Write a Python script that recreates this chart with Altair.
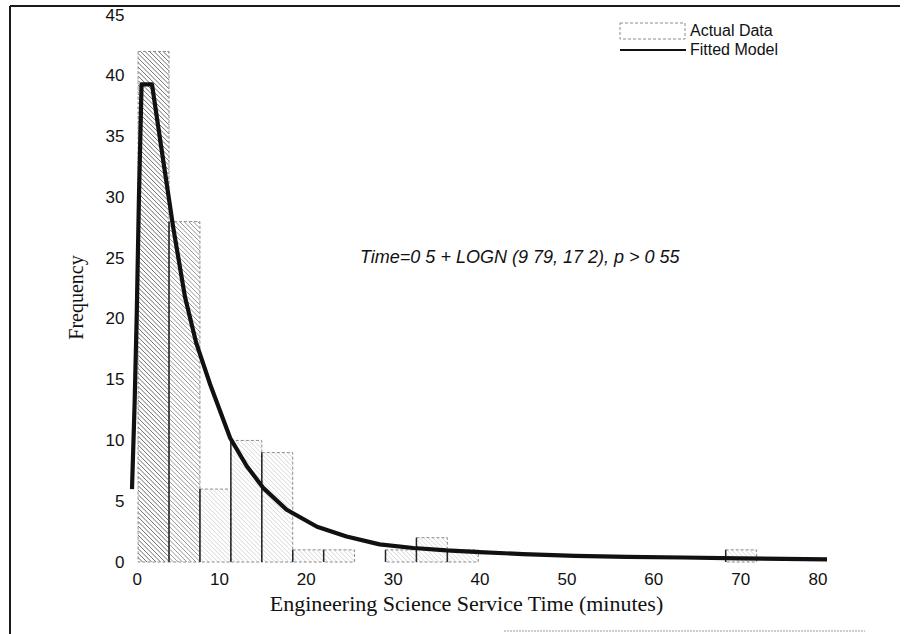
import altair as alt
import pandas as pd

# Histogram of observed service times (bin edges in minutes, counts per bin)
bin_edges = [0.70, 4.26, 7.82, 11.38, 14.94, 18.50, 22.06, 25.62, 29.18, 32.74, 36.30,
             39.86, 43.42, 46.98, 50.54, 54.10, 57.66, 61.22, 64.78, 68.34, 71.90,
             75.46, 79.02]
bin_counts = [42, 28, 6, 10, 9, 1, 1, 0, 1, 2, 1, 0, 0, 0, 0, 0, 0, 0, 0, 1, 0, 0]

# Fitted lognormal model, scaled to frequency
curve_x = [0.0, 0.3, 0.55, 0.8, 1.1, 2.3, 3.6, 4.75, 6.1, 7.4, 9.0, 11.3, 13.2, 15.1,
           17.8, 21.3, 24.7, 28.5, 32.4, 36.2, 40.0, 45.0, 51.0, 57.0, 63.4, 70.0,
           75.0, 80.0]
curve_y = [6.0, 13.0, 20.5, 30.0, 39.3, 39.3, 33.0, 27.5, 21.8, 18.0, 14.6, 10.2, 7.9,
           6.1, 4.3, 2.9, 2.1, 1.45, 1.15, 0.95, 0.82, 0.65, 0.5, 0.42, 0.37, 0.3,
           0.25, 0.22]

x_ticks = [0, 10, 20, 30, 40, 50, 60, 70, 80]
y_ticks = [0, 5, 10, 15, 20, 25, 30, 35, 40, 45]
legend_labels = ["Actual Data", "Fitted Model"]
annotation = "Time=0 5 + LOGN (9 79, 17 2), p > 0 55"
x_title = "Engineering Science Service Time (minutes)"
y_title = "Frequency"

W, H = 695, 547
X_MAX, Y_MAX = 80, 45

bars = pd.DataFrame({
    "lo": bin_edges[:-1],
    "hi": bin_edges[1:],
    "count": bin_counts,
    "bin": list(range(len(bin_counts))),
})
bars["base"] = 0
bars = bars[bars["count"] > 0].reset_index(drop=True)

# Diagonal hatching inside each bar, spaced in screen pixels
sx, sy = W / X_MAX, H / Y_MAX
step = 4.5
rows = []
for r in bars.itertuples():
    w_px = (r.hi - r.lo) * sx
    h_px = r.count * sy
    tone = "dark" if r.bin == 0 else ("mid" if r.bin == 1 else "light")
    c = step
    while c < w_px + h_px:
        u0 = max(0.0, c - h_px)
        u1 = min(w_px, c)
        rows.append({"x": r.lo + u0 / sx, "y": (c - u0) / sy,
                     "x2": r.lo + u1 / sx, "y2": (c - u1) / sy, "tone": tone})
        c += step
hatch = pd.DataFrame(rows)

curve = pd.DataFrame({"x": curve_x, "y": curve_y})
one = pd.DataFrame({"k": [0]})

x_scale = alt.Scale(domain=[0, X_MAX], nice=False, zero=False)
y_scale = alt.Scale(domain=[0, Y_MAX], nice=False, zero=False)
x_axis = alt.Axis(values=x_ticks, title=x_title, domain=False, ticks=False, grid=False,
                  labelFont="Liberation Sans", labelFontSize=17, labelColor="#111",
                  labelPadding=9, titleFont="Liberation Serif", titleFontSize=22,
                  titleFontWeight="normal", titleColor="#111", titleX=334, titleY=41,
                  titleBaseline="middle", titleAlign="center")
y_axis = alt.Axis(values=y_ticks, title=y_title, domain=False, ticks=False, grid=False,
                  labelFont="Liberation Sans", labelFontSize=17, labelColor="#111",
                  labelPadding=8, titleFont="Liberation Serif", titleFontSize=20,
                  titleFontWeight="normal", titleColor="#111", titleX=-56, titleY=282,
                  titleBaseline="middle", titleAlign="center", titleAngle=-90)

hatch_layer = alt.Chart(hatch).mark_rule(strokeWidth=0.9).encode(
    x=alt.X("x:Q", scale=x_scale, axis=x_axis),
    x2="x2:Q",
    y=alt.Y("y:Q", scale=y_scale, axis=y_axis),
    y2="y2:Q",
    color=alt.Color("tone:N", legend=None,
                    scale=alt.Scale(domain=["dark", "mid", "light"],
                                    range=["#5e5e5e", "#8c8c8c", "#d4d4d4"])),
)

bar_outline = alt.Chart(bars).mark_rect(
    fill="white", fillOpacity=0, stroke="#8c8c8c", strokeWidth=1, strokeDash=[3, 2]
).encode(
    x=alt.X("lo:Q", scale=x_scale, axis=x_axis),
    x2="hi:Q",
    y=alt.Y("count:Q", scale=y_scale, axis=y_axis),
    y2="base:Q",
)

bar_edges = alt.Chart(bars).transform_filter("datum.bin > 0").mark_rule(
    color="#262626", strokeWidth=1.5
).encode(
    x=alt.X("lo:Q", scale=x_scale, axis=x_axis),
    y=alt.Y("count:Q", scale=y_scale, axis=y_axis),
    y2="base:Q",
)

curve_layer = alt.Chart(curve).mark_line(
    color="#111", strokeWidth=4.2, strokeJoin="round"
).encode(
    x=alt.X("x:Q", scale=x_scale, axis=x_axis),
    y=alt.Y("y:Q", scale=y_scale, axis=y_axis),
)

note = alt.Chart(one).mark_text(
    text=annotation, font="Liberation Sans", fontSize=18, fontStyle="italic",
    align="left", baseline="middle", color="#111"
).encode(x=alt.value(228), y=alt.value(243))

legend_box = alt.Chart(one).mark_rect(
    fill="white", stroke="#8c8c8c", strokeWidth=1, strokeDash=[3, 2]
).encode(x=alt.value(488), x2=alt.value(553), y=alt.value(8), y2=alt.value(24))

legend_line = alt.Chart(one).mark_rule(color="#111", strokeWidth=2.2).encode(
    x=alt.value(488), x2=alt.value(554), y=alt.value(35)
)

legend_text_a = alt.Chart(one).mark_text(
    text=legend_labels[0], font="Liberation Sans", fontSize=16, align="left",
    baseline="middle", color="#111"
).encode(x=alt.value(558), y=alt.value(16))

legend_text_b = alt.Chart(one).mark_text(
    text=legend_labels[1], font="Liberation Sans", fontSize=16, align="left",
    baseline="middle", color="#111"
).encode(x=alt.value(558), y=alt.value(35))

frame_top = alt.Chart(one).mark_rule(color="#1a1a1a", strokeWidth=2).encode(
    x=alt.value(-122), x2=alt.value(768), y=alt.value(-9)
)
frame_left = alt.Chart(one).mark_rule(color="#1a1a1a", strokeWidth=2).encode(
    x=alt.value(-122), y=alt.value(-9), y2=alt.value(625)
)
frame_bottom = alt.Chart(one).mark_rule(color="#9a9a9a", strokeWidth=1, strokeDash=[2, 1]).encode(
    x=alt.value(372), x2=alt.value(733), y=alt.value(616)
)

chart = alt.layer(
    hatch_layer, bar_outline, bar_edges, curve_layer, note,
    legend_box, legend_line, legend_text_a, legend_text_b,
    frame_top, frame_left, frame_bottom,
).properties(
    width=W, height=H,
    padding={"left": 132, "top": 15, "right": 78, "bottom": 72},
    autosize=alt.AutoSizeParams(type="none"),
    background="white",
).configure_view(stroke=None)

chart.save("out.html", embed_options={"renderer": "svg", "actions": False})
